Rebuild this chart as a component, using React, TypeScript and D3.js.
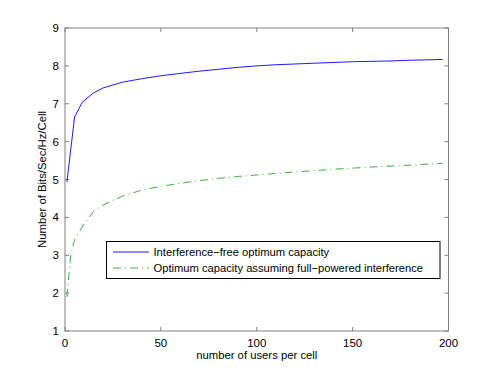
import {useEffect, useRef} from "react";
import * as d3 from "d3";

// users per cell
const usersFree = [1, 5, 9, 15, 20, 30, 40, 50, 60, 70, 80, 90, 100, 110, 120, 130, 140, 150, 160, 170, 180, 190, 197];
// interference-free optimum capacity (bits/sec/Hz/cell)
const capFree = [4.93, 6.65, 7.04, 7.29, 7.42, 7.57, 7.66, 7.74, 7.8, 7.86, 7.91, 7.96, 8.0, 8.03, 8.05, 8.07, 8.09, 8.11, 8.12, 8.13, 8.15, 8.16, 8.17];

const usersFull = [1, 3, 5, 10, 15, 20, 25, 30, 40, 50, 60, 70, 80, 90, 100, 120, 140, 160, 180, 197];
// optimum capacity with full-powered interference
const capFull = [1.9, 3.0, 3.41, 3.83, 4.16, 4.33, 4.45, 4.56, 4.72, 4.82, 4.9, 4.97, 5.03, 5.08, 5.12, 5.2, 5.27, 5.33, 5.38, 5.43];

const xTicks = [0, 50, 100, 150, 200];
const yTicks = [1, 2, 3, 4, 5, 6, 7, 8, 9];
const legendLabels = [
    "Interference\u2212free optimum capacity",
    "Optimum capacity assuming full\u2212powered interference",
];

export default function App() {
    const ref = useRef<SVGSVGElement>(null);

    useEffect(() => {
        const el = ref.current;
        if(!el) return;
        const svg = d3.select(el);
        svg.selectAll("*").remove();

        const width = 495;
        const height = 372;
        const margin = {top: 28, right: 46.5, bottom: 41, left: 65};
        const font = "'Liberation Sans', Arial, sans-serif";
        const axisColor = "#808080";

        const x = d3.scaleLinear().domain([0, 200]).range([margin.left, width - margin.right]);
        const y = d3.scaleLinear().domain([1, 9]).range([height - margin.bottom, margin.top]);

        svg.append("rect").attr("width", width).attr("height", height).attr("fill", "#fff");

        const tickLen = 4;
        const x0 = x.range()[0], x1 = x.range()[1];
        const y0 = y.range()[0], y1 = y.range()[1];

        // box + inward ticks (mirrored)
        const g = svg.append("g").attr("stroke", axisColor).attr("stroke-width", 1).attr("fill", "none");
        g.append("rect").attr("x", x0).attr("y", y1).attr("width", x1 - x0).attr("height", y0 - y1);
        xTicks.forEach((t) => {
            g.append("line").attr("x1", x(t)).attr("x2", x(t)).attr("y1", y0).attr("y2", y0 - tickLen);
            g.append("line").attr("x1", x(t)).attr("x2", x(t)).attr("y1", y1).attr("y2", y1 + tickLen);
        });
        yTicks.forEach((t) => {
            g.append("line").attr("x1", x0).attr("x2", x0 + tickLen).attr("y1", y(t)).attr("y2", y(t));
            g.append("line").attr("x1", x1).attr("x2", x1 - tickLen).attr("y1", y(t)).attr("y2", y(t));
        });

        // tick labels
        svg.append("g").selectAll("text").data(xTicks).join("text")
            .attr("x", (d) => x(d)).attr("y", y0 + 16)
            .attr("text-anchor", "middle")
            .attr("font-family", font).attr("font-size", 11.5).attr("fill", "#000")
            .text((d) => d);
        svg.append("g").selectAll("text").data(yTicks).join("text")
            .attr("x", x0 - 6).attr("y", (d) => y(d) + 4)
            .attr("text-anchor", "end")
            .attr("font-family", font).attr("font-size", 11.5).attr("fill", "#000")
            .text((d) => d);

        // axis labels
        svg.append("text")
            .attr("x", (x0 + x1) / 2).attr("y", y0 + 28)
            .attr("text-anchor", "middle")
            .attr("font-family", font).attr("font-size", 11.3).attr("fill", "#000")
            .text("number of users per cell");
        svg.append("text")
            .attr("transform", `translate(46, ${(y0 + y1) / 2}) rotate(-90)`)
            .attr("text-anchor", "middle")
            .attr("font-family", font).attr("font-size", 11.3).attr("fill", "#000")
            .text("Number of Bits/Sec/Hz/Cell");

        const line = d3.line<[number, number]>().x((d) => x(d[0])).y((d) => y(d[1]));

        svg.append("path")
            .datum(usersFree.map((u, i) => [u, capFree[i]] as [number, number]))
            .attr("d", line)
            .attr("fill", "none")
            .attr("stroke", "#0000ff")
            .attr("stroke-width", 0.9);

        svg.append("path")
            .datum(usersFull.map((u, i) => [u, capFull[i]] as [number, number]))
            .attr("d", line)
            .attr("fill", "none")
            .attr("stroke", "#22aa22")
            .attr("stroke-width", 0.9)
            .attr("stroke-dasharray", "8,4,1,4");

        // legend
        const lg = svg.append("g").attr("transform", "translate(106.5, 241.5)");
        lg.append("rect").attr("width", 333.5).attr("height", 37)
            .attr("fill", "#fff").attr("stroke", "#000").attr("stroke-width", 1);
        const colors = ["#0000ff", "#22aa22"];
        const dashes = [null, "8,4,1,4"];
        legendLabels.forEach((lab, i) => {
            const cy = 10.5 + i * 16;
            lg.append("line").attr("x1", 6.5).attr("x2", 42.5).attr("y1", cy).attr("y2", cy)
                .attr("stroke", colors[i]).attr("stroke-width", 0.9)
                .attr("stroke-dasharray", dashes[i]);
            lg.append("text").attr("x", 47).attr("y", cy + 4)
                .attr("font-family", font).attr("font-size", 11.2).attr("fill", "#000")
                .text(lab);
        });
    }, []);

    return (
        <svg ref={ref} width={495} height={372}
            style={{position: "absolute", left: 0, top: 0, display: "block"}} />
    );
}
